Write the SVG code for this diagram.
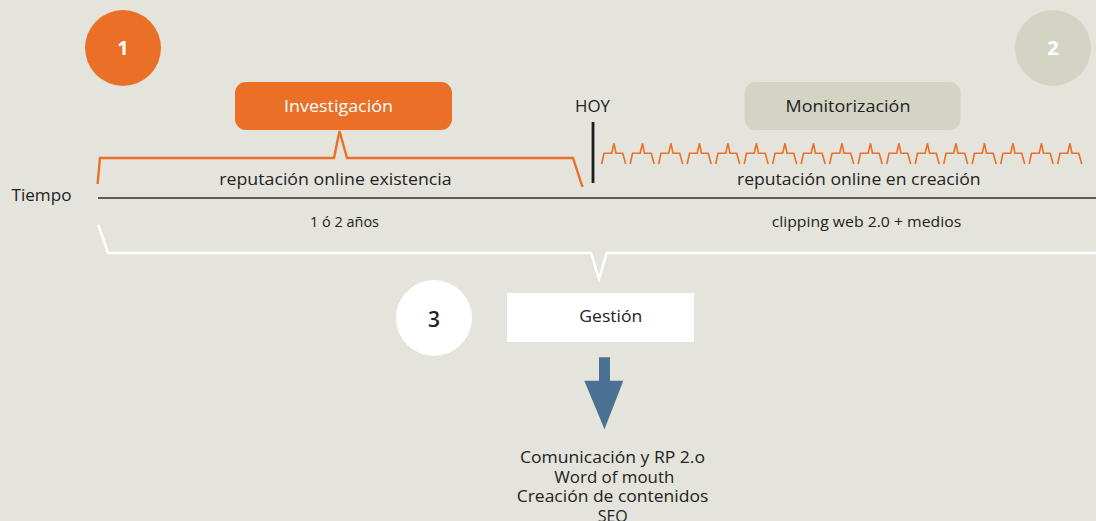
<svg xmlns="http://www.w3.org/2000/svg" xmlns:xlink="http://www.w3.org/1999/xlink" width="1096" height="521" viewBox="0 0 1096 521">
<style>
.t{font-family:"Open Sans",Lato,"Liberation Sans",sans-serif;fill:#222;}
.lab{font-size:17px;}
.sm{font-size:14px;}
.num{font-family:"Open Sans","Liberation Sans",sans-serif;font-weight:bold;font-size:20px;fill:#fff;text-anchor:middle;}
.or{fill:none;stroke:#ea7027;stroke-width:2.4;stroke-linejoin:miter;}
.wh{fill:none;stroke:#ffffff;stroke-width:2.5;}
</style>
<defs>
<path id="tooth" d="M0,164 L2.3,153.3 L10,153.3 L12.3,143.3 L14.3,153.3 L21,153.3 L24,164" fill="none" stroke="#ea7027" stroke-width="1.6"/>
</defs>
<rect x="0" y="0" width="1096" height="521" fill="#e4e4dc"/>

<g id="connectors">
<line x1="98" y1="198" x2="1096" y2="198" stroke="#3b2a22" stroke-width="1.6"/>
<path class="or" d="M97.6,184 L100,158 L334,158 L339.5,131 L347,158 L573,158 L582.5,187"/>
<path class="wh" d="M98.3,225 L108,253 L591,253 L599,279 L606.7,253 L1100,253"/>
<line x1="593" y1="122" x2="593" y2="183" stroke="#1e1e1e" stroke-width="2.8"/>
<g id="zigzag">
<use xlink:href="#tooth" x="601.7"/><use xlink:href="#tooth" x="630.2"/><use xlink:href="#tooth" x="658.7"/><use xlink:href="#tooth" x="687.2"/><use xlink:href="#tooth" x="715.7"/><use xlink:href="#tooth" x="744.2"/><use xlink:href="#tooth" x="772.7"/><use xlink:href="#tooth" x="801.2"/><use xlink:href="#tooth" x="829.7"/><use xlink:href="#tooth" x="858.2"/><use xlink:href="#tooth" x="886.7"/><use xlink:href="#tooth" x="915.2"/><use xlink:href="#tooth" x="943.7"/><use xlink:href="#tooth" x="972.2"/><use xlink:href="#tooth" x="1000.7"/><use xlink:href="#tooth" x="1029.2"/><use xlink:href="#tooth" x="1057.7"/>
</g>
<path id="arrow" d="M599,357.3 L610,357.3 L610,380.7 L623.3,380.7 L604.5,429.3 L584.3,380.7 L599,380.7 Z" fill="#4a7193"/>
</g>

<g id="n1">
<circle cx="123" cy="48" r="38" fill="#ea7027"/>
<text class="num" x="123" y="54.5">1</text>
</g>
<g id="n2">
<circle cx="1053" cy="48" r="38" fill="#d3d4c4"/>
<text class="num" x="1053" y="54.5">2</text>
</g>
<g id="investigacion">
<rect x="235" y="82" width="217" height="48" rx="11" fill="#ea7027"/>
<text class="t lab" x="284" y="112.3" textLength="109" lengthAdjust="spacingAndGlyphs" style="fill:#fff">Investigación</text>
</g>
<g id="monitorizacion">
<rect x="744.6" y="82" width="216" height="48" rx="11" fill="#d3d4c4"/>
<text class="t lab" x="785.6" y="112.3" textLength="124.8" lengthAdjust="spacingAndGlyphs">Monitorización</text>
</g>
<g id="hoy">
<text class="t lab" x="575" y="112.3" textLength="35" lengthAdjust="spacingAndGlyphs">HOY</text>
</g>
<g id="tiempo">
<text class="t lab" x="11.5" y="200.5" textLength="60" lengthAdjust="spacingAndGlyphs">Tiempo</text>
</g>
<g id="rep1">
<text class="t lab" x="219.3" y="185.3" textLength="232.3" lengthAdjust="spacingAndGlyphs">reputación online existencia</text>
</g>
<g id="rep2">
<text class="t lab" x="737" y="185.3" textLength="243.5" lengthAdjust="spacingAndGlyphs">reputación online en creación</text>
</g>
<g id="anos">
<text class="t sm" x="310" y="227" textLength="69" lengthAdjust="spacingAndGlyphs">1 ó 2 años</text>
</g>
<g id="clipping">
<text class="t sm" x="771.7" y="227" textLength="189.5" lengthAdjust="spacingAndGlyphs">clipping web 2.0 + medios</text>
</g>
<g id="n3">
<circle cx="434" cy="318" r="38" fill="#ffffff"/>
<text x="434" y="326.5" text-anchor="middle" style="font-family:'Open Sans','Liberation Sans',sans-serif;font-weight:600;font-size:21px;fill:#222">3</text>
</g>
<g id="gestion">
<rect x="507" y="293" width="187" height="49" fill="#ffffff"/>
<text class="t lab" x="579.3" y="321.7" textLength="63" lengthAdjust="spacingAndGlyphs">Gestión</text>
</g>
<g id="acciones">
<text class="t lab" x="520" y="462.7" textLength="185" lengthAdjust="spacingAndGlyphs">Comunicación y RP 2.o</text>
<text class="t lab" x="554.3" y="482.5" textLength="120" lengthAdjust="spacingAndGlyphs">Word of mouth</text>
<text class="t lab" x="516.7" y="502.2" textLength="191.6" lengthAdjust="spacingAndGlyphs">Creación de contenidos</text>
<text class="t lab" x="597.7" y="521.5" textLength="30" lengthAdjust="spacingAndGlyphs">SEO</text>
</g>
</svg>
